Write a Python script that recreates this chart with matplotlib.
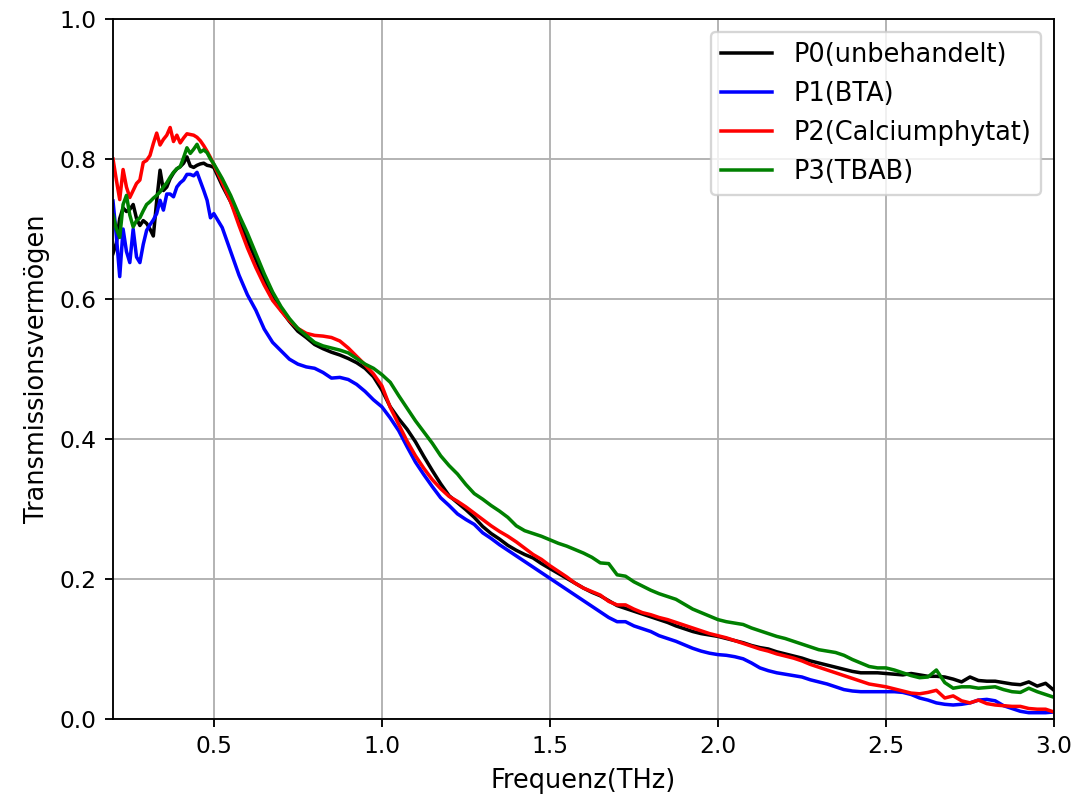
import numpy as np
import matplotlib
matplotlib.use("Agg")
import matplotlib.pyplot as plt

# Frequency grid: fine sampling in the noisy low-frequency part, coarser above
freq = np.round(np.concatenate([np.arange(0.20, 0.505, 0.01),
                                np.arange(0.525, 3.0001, 0.025)]), 3)

labels = ["P0(unbehandelt)", "P1(BTA)", "P2(Calciumphytat)", "P3(TBAB)"]
colors = ["black", "blue", "red", "green"]

p0_unbehandelt = [
    0.665, 0.680, 0.715, 0.730, 0.725, 0.728, 0.735, 0.715, 0.705, 0.712,
    0.708, 0.700, 0.690, 0.740, 0.784, 0.755, 0.760, 0.772, 0.780, 0.786,
    0.789, 0.794, 0.803, 0.790, 0.788, 0.791, 0.793, 0.794, 0.791, 0.790,
    0.788,
    0.762, 0.739, 0.712, 0.684, 0.656, 0.627, 0.602, 0.584, 0.568, 0.554,
    0.545, 0.535, 0.529, 0.524, 0.520, 0.515, 0.509, 0.501, 0.489, 0.470,
    0.446, 0.429, 0.414, 0.396, 0.375, 0.355, 0.336, 0.319, 0.309, 0.299,
    0.288, 0.275, 0.265, 0.257, 0.248, 0.241, 0.235, 0.230, 0.222, 0.215,
    0.208, 0.201, 0.194, 0.187, 0.181, 0.176, 0.169, 0.162, 0.158, 0.154,
    0.150, 0.146, 0.142, 0.138, 0.133, 0.129, 0.125, 0.122, 0.120, 0.118,
    0.115, 0.112, 0.109, 0.105, 0.102, 0.100, 0.096, 0.093, 0.090, 0.087,
    0.083, 0.080, 0.077, 0.074, 0.071, 0.068, 0.066, 0.066, 0.066, 0.065,
    0.064, 0.063, 0.065, 0.063, 0.061, 0.061, 0.060, 0.057, 0.053, 0.060,
    0.055, 0.054, 0.054, 0.052, 0.050, 0.049, 0.053, 0.047, 0.051, 0.041,
]

p1_bta = [
    0.740, 0.690, 0.632, 0.700, 0.668, 0.652, 0.700, 0.660, 0.652, 0.678,
    0.698, 0.706, 0.713, 0.722, 0.741, 0.727, 0.750, 0.750, 0.746, 0.760,
    0.766, 0.770, 0.778, 0.778, 0.776, 0.781, 0.768, 0.755, 0.741, 0.716,
    0.722,
    0.702, 0.668, 0.634, 0.606, 0.584, 0.557, 0.538, 0.526, 0.514, 0.507,
    0.503, 0.501, 0.495, 0.487, 0.488, 0.485, 0.478, 0.468, 0.456, 0.446,
    0.430, 0.412, 0.389, 0.367, 0.349, 0.332, 0.316, 0.305, 0.293, 0.285,
    0.278, 0.266, 0.258, 0.249, 0.241, 0.233, 0.225, 0.217, 0.209, 0.201,
    0.193, 0.185, 0.177, 0.169, 0.161, 0.153, 0.145, 0.139, 0.139, 0.133,
    0.129, 0.125, 0.119, 0.115, 0.111, 0.106, 0.101, 0.097, 0.094, 0.092,
    0.091, 0.089, 0.086, 0.080, 0.073, 0.069, 0.066, 0.064, 0.062, 0.060,
    0.056, 0.053, 0.050, 0.046, 0.042, 0.040, 0.039, 0.039, 0.039, 0.039,
    0.039, 0.038, 0.035, 0.030, 0.027, 0.023, 0.021, 0.020, 0.021, 0.023,
    0.027, 0.028, 0.026, 0.019, 0.015, 0.011, 0.009, 0.009, 0.009, 0.010,
]

p2_calciumphytat = [
    0.800, 0.770, 0.742, 0.785, 0.760, 0.745, 0.755, 0.765, 0.770, 0.795,
    0.798, 0.805, 0.822, 0.837, 0.820, 0.828, 0.834, 0.845, 0.825, 0.834,
    0.823, 0.830, 0.836, 0.835, 0.834, 0.831, 0.826, 0.819, 0.811, 0.802,
    0.792,
    0.766, 0.739, 0.705, 0.673, 0.645, 0.620, 0.598, 0.583, 0.569, 0.558,
    0.551, 0.548, 0.547, 0.545, 0.540, 0.530, 0.518, 0.506, 0.493, 0.476,
    0.445, 0.421, 0.397, 0.376, 0.358, 0.342, 0.329, 0.318, 0.311, 0.303,
    0.294, 0.285, 0.276, 0.268, 0.261, 0.253, 0.244, 0.235, 0.228, 0.219,
    0.211, 0.203, 0.194, 0.187, 0.182, 0.177, 0.168, 0.163, 0.163, 0.157,
    0.152, 0.149, 0.145, 0.142, 0.138, 0.134, 0.130, 0.126, 0.122, 0.119,
    0.116, 0.112, 0.108, 0.104, 0.100, 0.097, 0.093, 0.090, 0.087, 0.083,
    0.078, 0.074, 0.070, 0.066, 0.062, 0.058, 0.054, 0.050, 0.048, 0.046,
    0.043, 0.040, 0.037, 0.036, 0.038, 0.041, 0.030, 0.033, 0.026, 0.023,
    0.027, 0.022, 0.020, 0.019, 0.018, 0.018, 0.015, 0.014, 0.014, 0.010,
]

p3_tbab = [
    0.720, 0.700, 0.688, 0.735, 0.748, 0.720, 0.703, 0.712, 0.716, 0.726,
    0.735, 0.739, 0.744, 0.748, 0.753, 0.760, 0.766, 0.774, 0.781, 0.786,
    0.789, 0.802, 0.816, 0.808, 0.814, 0.821, 0.810, 0.813, 0.809, 0.800,
    0.793,
    0.772, 0.748, 0.720, 0.694, 0.665, 0.636, 0.610, 0.589, 0.572, 0.558,
    0.548, 0.538, 0.533, 0.530, 0.527, 0.523, 0.515, 0.507, 0.501, 0.492,
    0.481, 0.462, 0.444, 0.426, 0.410, 0.394, 0.376, 0.362, 0.350, 0.335,
    0.322, 0.314, 0.305, 0.297, 0.288, 0.276, 0.269, 0.265, 0.261, 0.256,
    0.251, 0.247, 0.242, 0.237, 0.231, 0.223, 0.222, 0.206, 0.204, 0.196,
    0.190, 0.184, 0.179, 0.175, 0.171, 0.164, 0.157, 0.152, 0.147, 0.142,
    0.139, 0.137, 0.135, 0.130, 0.126, 0.122, 0.118, 0.115, 0.111, 0.107,
    0.103, 0.099, 0.097, 0.095, 0.091, 0.085, 0.080, 0.075, 0.073, 0.073,
    0.070, 0.066, 0.062, 0.059, 0.060, 0.070, 0.052, 0.044, 0.046, 0.046,
    0.044, 0.045, 0.046, 0.042, 0.039, 0.038, 0.044, 0.039, 0.035, 0.031,
]

series = [p0_unbehandelt, p1_bta, p2_calciumphytat, p3_tbab]

fig = plt.figure(figsize=(1078 / 168, 804 / 168), dpi=168)
ax = fig.add_axes([113 / 1078, 1 - 719 / 804, 941 / 1078, 700 / 804])

for values, label, color in zip(series, labels, colors):
    ax.plot(freq, values, color=color, label=label)

ax.set_xlim(0.2, 3.0)
ax.set_ylim(0.0, 1.0)
ax.set_xlabel("Frequenz(THz)", fontsize=11)
ax.set_ylabel("Transmissionsvermögen", fontsize=11)
ax.tick_params(labelsize=10)
ax.grid(True)
ax.legend(loc="upper right", fontsize=11)

fig.savefig("out.png", dpi=168)
